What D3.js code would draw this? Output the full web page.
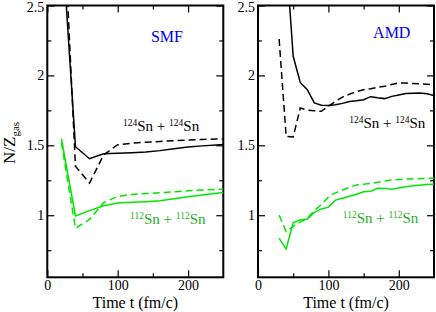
<!DOCTYPE html>
<html>
<head>
<meta charset="utf-8">
<script src="https://cdn.jsdelivr.net/npm/d3@7"></script>
<style>
  body { margin: 0; background: #fff; }
  svg text { font-family: "Liberation Serif", "Times New Roman", serif; }
</style>
</head>
<body>
<div id="chart"></div>
<script>
// chart size
let svgWidth = 436;
let svgHeight = 312;
let serif = "Liberation Serif, Times New Roman, serif";

// data, N/Z of the gas vs time
// SMF panel, sampled every 20 fm/c
let smfT = [20, 40, 60, 80, 100, 120, 140, 160, 180, 200, 220, 240, 250];
let smf124Solid = [3.04, 1.49, 1.404, 1.44, 1.443, 1.447, 1.452, 1.462, 1.476, 1.488, 1.496, 1.503, 1.506];
let smf124Dash = [3.48, 1.35, 1.23, 1.432, 1.504, 1.515, 1.522, 1.528, 1.533, 1.538, 1.542, 1.545, 1.546];
let smf112Solid = [1.547, 0.995, 1.033, 1.068, 1.088, 1.093, 1.097, 1.103, 1.118, 1.132, 1.145, 1.157, 1.162];
let smf112Dash = [1.52, 0.907, 0.97, 1.09, 1.135, 1.148, 1.155, 1.16, 1.168, 1.175, 1.18, 1.185, 1.186];

// AMD panel, sampled every 10 fm/c
let amdT = [30, 40, 50, 60, 70, 80, 90, 100, 110, 120, 130, 140, 150, 160, 170, 180, 190, 200, 210, 220, 230, 240, 250];
let amd124Solid = [null, 2.85, 2.137, 1.95, 1.898, 1.803, 1.787, 1.784, 1.79, 1.80, 1.814, 1.818, 1.826, 1.848, 1.84, 1.834, 1.85, 1.86, 1.87, 1.873, 1.875, 1.868, 1.857];
let amd124Dash = [2.26, 1.563, 1.56, 1.767, 1.752, 1.748, 1.743, 1.78, 1.814, 1.845, 1.866, 1.885, 1.898, 1.905, 1.915, 1.922, 1.935, 1.946, 1.945, 1.942, 1.94, 1.937, 1.934];
let amd112Solid = [0.835, 0.758, 0.947, 0.966, 0.973, 1.02, 1.045, 1.058, 1.108, 1.122, 1.136, 1.15, 1.168, 1.172, 1.193, 1.192, 1.186, 1.195, 1.204, 1.21, 1.214, 1.219, 1.222];
let amd112Dash = [1.0, 0.883, 0.92, 0.95, 0.978, 1.035, 1.075, 1.13, 1.16, 1.18, 1.2, 1.217, 1.222, 1.228, 1.235, 1.245, 1.253, 1.255, 1.258, 1.26, 1.262, 1.264, 1.265];

// ticks
let xMajor = [0, 100, 200];
let xMinor = [50, 150];
let yMajor = [1, 1.5, 2, 2.5];
let yMinor = [0.75, 1.25, 1.75, 2.25];

let black = "#000";
let green = "#00e600";
let greenText = "#1fae1f";

let svg = d3.select("#chart")
  .append("svg")
  .attr("width", svgWidth)
  .attr("height", svgHeight)
  .attr("font-family", serif);

// panel positions
let panels = [
  { left: 47.3, name: "SMF", t: smfT, series: [smf124Solid, smf124Dash, smf112Solid, smf112Dash],
    nameAt: [170, 2.24], lab124: [107.5, 1.604], lab112: [117.5, 0.937] },
  { left: 258, name: "AMD", t: amdT, series: [amd124Solid, amd124Dash, amd112Solid, amd112Dash],
    nameAt: [190, 2.27], lab124: [129.5, 1.622], lab112: [120.5, 0.946] }
];
let pw = 176;
let panelTop = 5.5;
let ph = 271.8;

panels.forEach(function(p, i) {
  let g = svg.append("g").attr("transform", `translate(${p.left}, ${panelTop})`);

  let x = d3.scaleLinear().domain([0, 250]).range([0, pw]);
  let y = d3.scaleLinear().domain([0.556, 2.5]).range([ph, 0]);

  g.append("clipPath").attr("id", "clip" + i)
    .append("rect").attr("width", pw).attr("height", ph);

  // bottom axis with labels
  let bottom = g.append("g").attr("transform", `translate(0, ${ph})`)
    .call(d3.axisBottom(x).tickValues(xMajor).tickSize(-7).tickPadding(3).tickFormat(d3.format("d")));
  g.append("g").attr("transform", `translate(0, ${ph})`)
    .call(d3.axisBottom(x).tickValues(xMinor).tickSize(-4).tickFormat(""));
  g.append("g").call(d3.axisTop(x).tickValues(xMajor).tickSize(-7).tickFormat(""));
  g.append("g").call(d3.axisTop(x).tickValues(xMinor).tickSize(-4).tickFormat(""));

  // left axis with labels
  let left = g.append("g")
    .call(d3.axisLeft(y).tickValues(yMajor).tickSize(-7).tickPadding(3).tickFormat(d => d));
  g.append("g").call(d3.axisLeft(y).tickValues(yMinor).tickSize(-4).tickFormat(""));
  g.append("g").attr("transform", `translate(${pw}, 0)`)
    .call(d3.axisRight(y).tickValues(yMajor).tickSize(-7).tickFormat(""));
  g.append("g").attr("transform", `translate(${pw}, 0)`)
    .call(d3.axisRight(y).tickValues(yMinor).tickSize(-4).tickFormat(""));

  g.selectAll(".domain").remove();
  g.selectAll("g").attr("font-family", serif).attr("font-size", 14);
  g.selectAll(".tick line").attr("stroke", black).attr("stroke-width", 1.2);
  g.selectAll(".tick text").attr("fill", black);
  bottom.selectAll(".tick text").attr("dy", "0.7em");
  // keep the top label inside the picture
  left.selectAll(".tick text").filter(d => d === 2.5).attr("dy", "0.42em");

  // frame
  g.append("rect").attr("width", pw).attr("height", ph)
    .attr("fill", "none").attr("stroke", black).attr("stroke-width", 2);

  // curves
  let colors = [black, black, green, green];
  let dashes = [null, "7,4", null, "7,4"];
  let line = d3.line()
    .defined(d => d[1] !== null)
    .x(d => x(d[0]))
    .y(d => y(d[1]));

  p.series.forEach(function(vals, k) {
    let pts = p.t.map((t, j) => [t, vals[j]]);
    g.append("path")
      .datum(pts)
      .attr("clip-path", `url(#clip${i})`)
      .attr("fill", "none")
      .attr("stroke", colors[k])
      .attr("stroke-width", 1.5)
      .attr("stroke-dasharray", dashes[k])
      .attr("d", line);
  });

  // model name
  g.append("text")
    .attr("x", x(p.nameAt[0])).attr("y", y(p.nameAt[1]))
    .attr("text-anchor", "middle")
    .attr("fill", "#0000ee")
    .attr("font-size", 16)
    .text(p.name);

  // reaction labels
  function reaction(pos, mass, color) {
    let t = g.append("text")
      .attr("x", x(pos[0])).attr("y", y(pos[1]))
      .attr("fill", color)
      .attr("font-size", 15);
    t.append("tspan").attr("dy", "-5").attr("font-size", 9.5).text(mass);
    t.append("tspan").attr("dy", "5").text("Sn + ");
    t.append("tspan").attr("dy", "-5").attr("font-size", 9.5).text(mass);
    t.append("tspan").attr("dy", "5").text("Sn");
  }
  reaction(p.lab124, "124", black);
  reaction(p.lab112, "112", greenText);

  // x title
  g.append("text")
    .attr("x", pw / 2).attr("y", ph + 31)
    .attr("text-anchor", "middle")
    .attr("fill", black)
    .attr("font-size", 16)
    .text("Time t (fm/c)");
});

// y title
let yTitle = svg.append("text")
  .attr("transform", "translate(15, 164) rotate(-90)")
  .attr("fill", black)
  .attr("font-size", 17);
yTitle.append("tspan").text("N/Z");
yTitle.append("tspan").attr("dy", "4").attr("font-size", 11).text("gas");
</script>
</body>
</html>
